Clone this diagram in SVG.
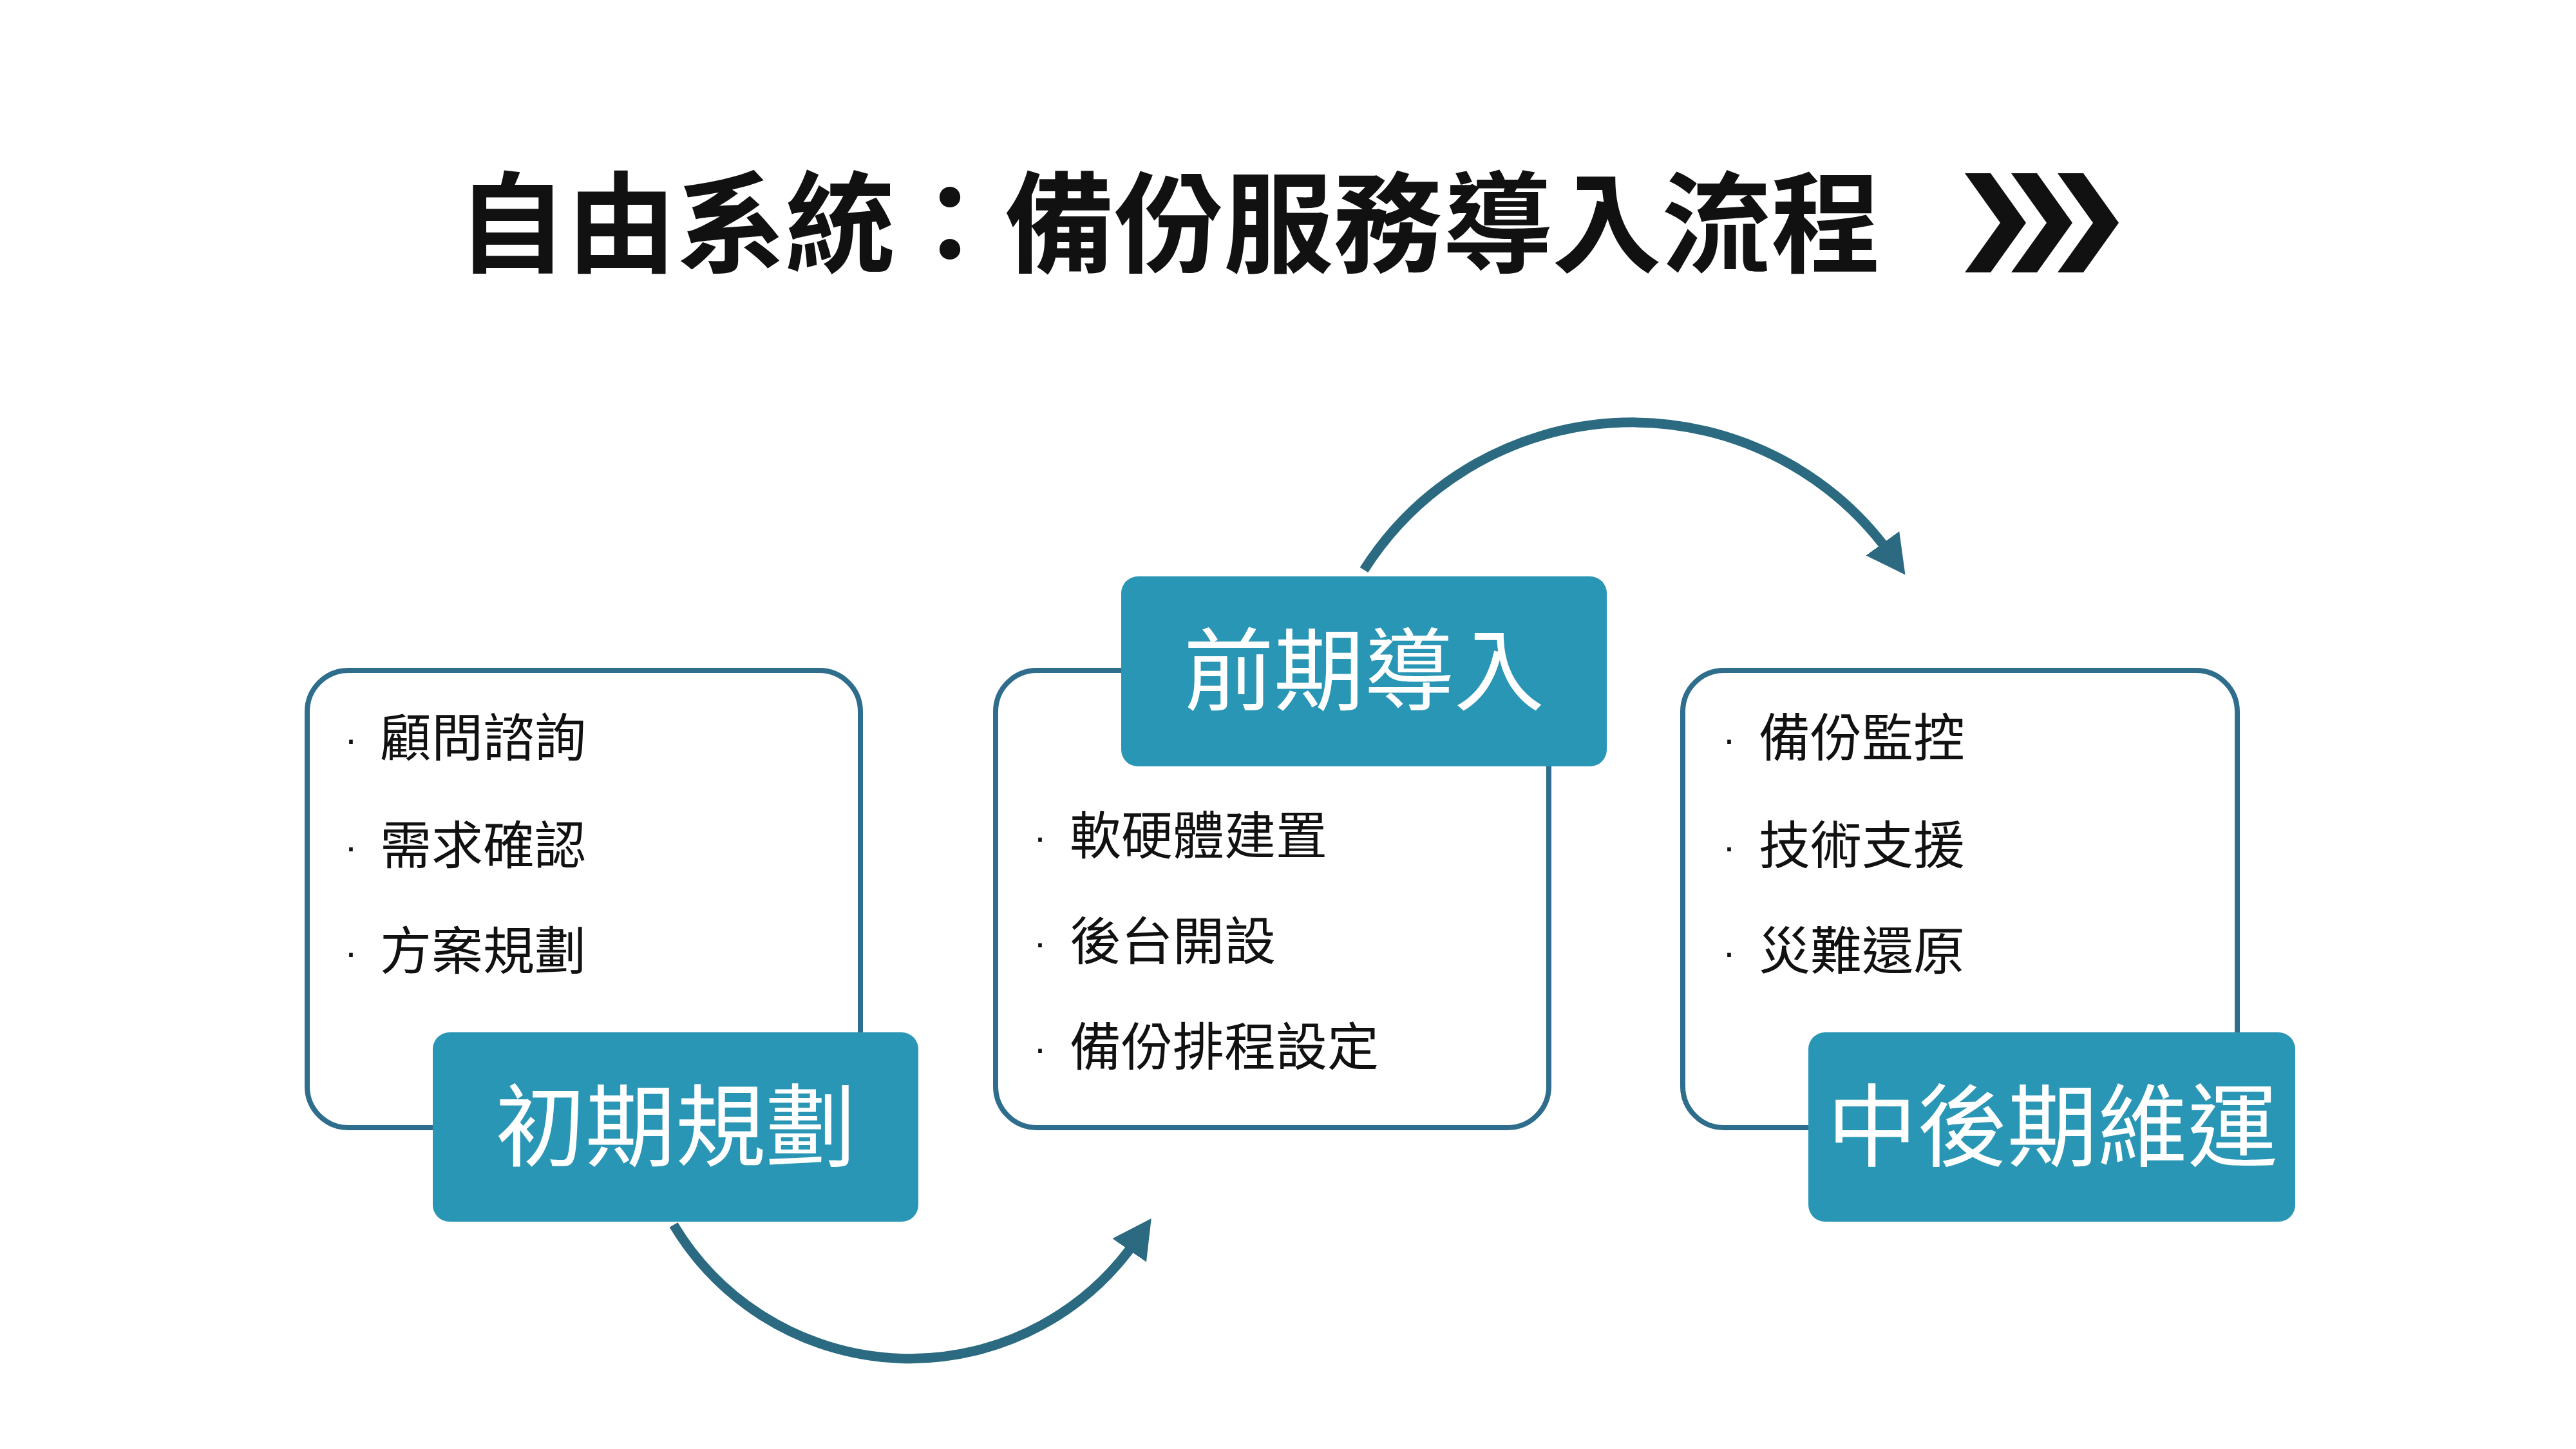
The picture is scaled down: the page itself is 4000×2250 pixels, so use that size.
<svg xmlns="http://www.w3.org/2000/svg" width="4000" height="2250" viewBox="0 0 4000 2250">
<style>
.outline{fill:#fff;stroke:#2e6d8c;stroke-width:8}
.label{fill:#2a96b5}
.lt{font-family:"Noto Sans CJK TC","Noto Sans CJK SC",sans-serif;font-size:140px;fill:#fff;text-anchor:middle}
.bt{font-family:"Noto Sans CJK TC","Noto Sans CJK SC",sans-serif;font-size:80px;fill:#111}
.dot{font-family:"Liberation Sans",sans-serif;font-size:60px;fill:#111;text-anchor:middle}
.conn{fill:none;stroke:#2b6a80;stroke-width:15}
</style>
<defs>
<marker id="ah" markerUnits="userSpaceOnUse" markerWidth="80" markerHeight="80" refX="20" refY="40" orient="auto" viewBox="0 0 80 80">
<path d="M0,8 L60,40 L0,72 Z" fill="#2b6a80"/>
</marker>
</defs>
<rect width="4000" height="2250" fill="#fff"/>
<g id="title">
<text x="710" y="410" font-family="'Noto Sans CJK TC','Noto Sans CJK SC',sans-serif" font-size="170" font-weight="700" fill="#111">自由系統：備份服務導入流程</text>
<g fill="#111">
<polygon points="3051,269 3091,269 3146,346 3091,423 3051,423 3106,346"/>
<polygon points="3123,269 3163,269 3218,346 3163,423 3123,423 3178,346"/>
<polygon points="3195,269 3235,269 3290,346 3235,423 3195,423 3250,346"/>
</g>
</g>
<g id="connectors">
<path class="conn" d="M1046,1902 A428,428 0 0 0 1765,1925" marker-end="url(#ah)"/>
<path class="conn" d="M2118,885 A494,494 0 0 1 2935,860" marker-end="url(#ah)"/>
</g>
<g id="node1">
<rect class="outline" x="477" y="1041" width="859" height="710" rx="64"/>
<text class="dot" x="545" y="1168">·</text><text class="bt" x="590" y="1174">顧問諮詢</text>
<text class="dot" x="545" y="1335">·</text><text class="bt" x="590" y="1341">需求確認</text>
<text class="dot" x="545" y="1499">·</text><text class="bt" x="590" y="1505">方案規劃</text>
<rect class="label" x="672" y="1603" width="754" height="294" rx="26"/>
<text class="lt" x="1049" y="1800">初期規劃</text>
</g>
<g id="node2">
<rect class="outline" x="1546" y="1041" width="859" height="710" rx="64"/>
<text class="dot" x="1615" y="1320">·</text><text class="bt" x="1661" y="1326">軟硬體建置</text>
<text class="dot" x="1615" y="1484">·</text><text class="bt" x="1661" y="1490">後台開設</text>
<text class="dot" x="1615" y="1648">·</text><text class="bt" x="1661" y="1654">備份排程設定</text>
<rect class="label" x="1741" y="895" width="754" height="295" rx="26"/>
<text class="lt" x="2118" y="1092">前期導入</text>
</g>
<g id="node3">
<rect class="outline" x="2613" y="1041" width="861" height="710" rx="64"/>
<text class="dot" x="2685" y="1168">·</text><text class="bt" x="2731" y="1174">備份監控</text>
<text class="dot" x="2685" y="1335">·</text><text class="bt" x="2731" y="1341">技術支援</text>
<text class="dot" x="2685" y="1499">·</text><text class="bt" x="2731" y="1505">災難還原</text>
<rect class="label" x="2808" y="1603" width="756" height="294" rx="26"/>
<text class="lt" x="3187" y="1800">中後期維運</text>
</g>
</svg>
